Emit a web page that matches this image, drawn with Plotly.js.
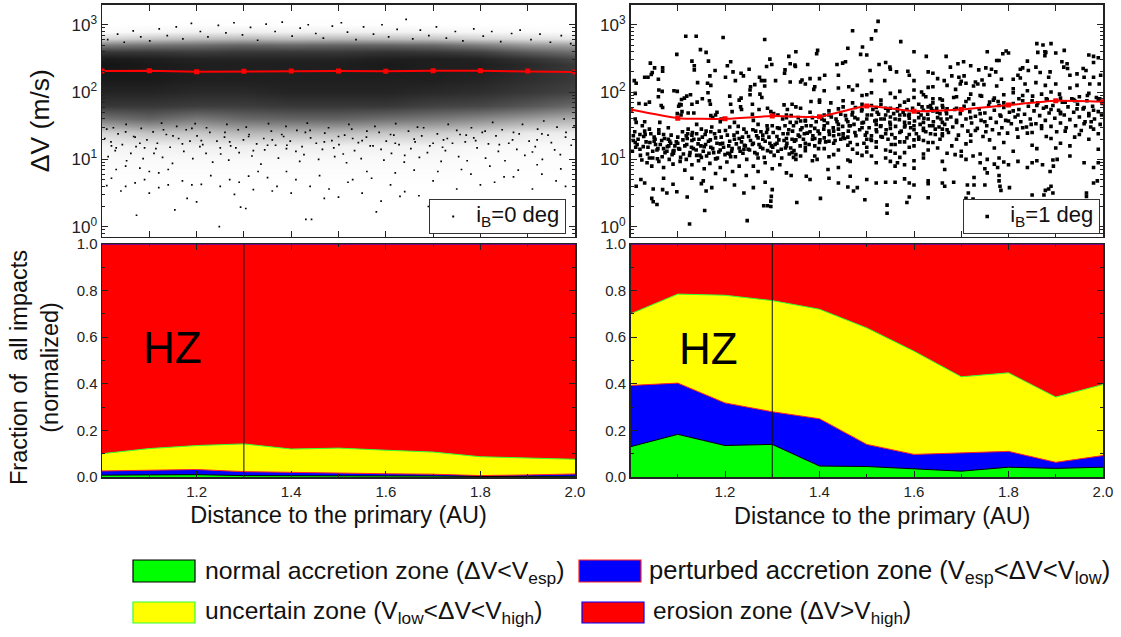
<!DOCTYPE html>
<html><head><meta charset="utf-8"><script src="https://cdn.plot.ly/plotly-3.0.1.min.js"></script>
<style>html,body{margin:0;padding:0;background:#fff}</style></head><body><div id="c" style="width:1121px;height:637px"></div>
<script>
// All values are estimates.
const distance=[1.0,1.1,1.2,1.3,1.4,1.5,1.6,1.7,1.8,1.9,2.0];
const medianLeft=[205,208,200,203,205,205,203,208,207,205,198];
const medianRight=[55,41,40,44,43,62,52,55,64,74,72];
// Zone upper boundaries (cumulative fraction of impacts)
const leftNormal=[.008,.008,.010,.006,.006,.005,.004,.004,.002,.003,.003];
const leftPerturbed=[.026,.028,.032,.023,.019,.017,.014,.012,.006,.009,.013];
const leftUncertain=[.100,.122,.135,.142,.120,.124,.115,.107,.087,.083,.076];
const rightNormal=[.130,.183,.135,.140,.047,.045,.035,.025,.042,.037,.042];
const rightPerturbed=[.393,.403,.318,.280,.250,.140,.097,.103,.110,.063,.092];
const rightUncertain=[.700,.785,.780,.757,.720,.640,.540,.430,.447,.343,.397];
const erosionTop=[1,1,1,1,1,1,1,1,1,1,1];
// Left top panel is too dense (tens of thousands of dots) to read dot by dot:
const cloudLog=[0,0.6,1.0,1.2,1.4,1.6,1.8,2.0,2.2,2.4,2.5,2.6,2.7,2.8,2.9,3.0,3.1];
const cloudDarkness=[
[0,0,0,0,0,0,0,0,0,0,0],
[0,0,0,0,0,0,0,0,0,0,0],
[.02,.02,.02,.02,.02,.02,.02,.02,.01,.01,.01],
[.04,.06,.06,.07,.07,.06,.05,.05,.03,.02,.02],
[.16,.24,.22,.28,.28,.26,.22,.20,.15,.08,.07],
[.54,.60,.52,.58,.60,.60,.56,.52,.46,.38,.30],
[.78,.78,.76,.76,.78,.78,.78,.74,.72,.66,.58],
[.86,.86,.84,.84,.86,.86,.86,.84,.82,.78,.74],
[.90,.90,.88,.88,.88,.88,.88,.88,.86,.82,.78],
[.92,.90,.88,.88,.88,.88,.90,.88,.88,.84,.78],
[.90,.88,.86,.86,.86,.86,.88,.88,.86,.80,.72],
[.78,.78,.76,.78,.78,.78,.80,.78,.74,.64,.56],
[.50,.54,.56,.60,.58,.60,.60,.58,.50,.40,.36],
[.16,.22,.26,.28,.26,.28,.26,.24,.18,.13,.10],
[.01,.03,.05,.06,.05,.06,.05,.04,.03,.02,.01],
[0,0,.005,.005,.005,.005,.005,0,0,0,0],
[0,0,0,0,0,0,0,0,0,0,0]];
// Individually visible dots, left top panel: x, log10(dV)
const leftDots=[1.073,.17,1.154,.25,1.248,0,1.293,.29,1.304,.27,1.431,.11,1.443,.11,1.63,.45,1.36,.53,1.35,.73,1.02,.72,1.01,.61,1.04,.53,1.05,.6,1.07,.65,1.09,.7,1.1,.5,1.12,.58,1.14,.62,1.03,.85,1.05,.9,1.08,.87,1.1,.82,1.12,.8,1.14,.85,1.17,.68,1.19,.62,1.21,.63,1.23,.76,1.25,.6,1.27,.7,1.29,.66,1.31,.75,1.33,.82,1.37,.6,1.39,.82,1.41,.7,1.44,.6,1.46,.76,1.48,.56,1.5,.44,1.52,.66,1.55,.5,1.57,.72,1.59,.38,1.61,.62,1.64,.52,1.67,.46,1.7,.68,1.73,.35,1.75,.56,1.78,.78,1.8,.62,1.83,.66,1.85,.74,1.88,.84,1.91,.56,1.93,.78,1.96,.68,1.98,.6,1.69,.3,1.58,.22,1.47,.42,1.18,.42,1.2,.37,1.28,.48,1.32,.55,1.4,.5,1.53,.7,1.56,.82,1.62,.8,1.66,.84,1.71,.82,1.76,.85,1.82,.9,1.87,.74,1.92,.92,1.97,.86,
1.013,1.04,1.028,1.13,1.052,.98,1.061,1.09,1.087,1.01,1.114,1.16,1.128,1.03,1.149,.94,1.173,1.12,1.192,1.01,1.207,1.19,1.234,.96,1.251,1.08,1.268,.99,1.283,1.17,1.317,1.05,1.336,.93,1.344,1.14,1.373,1.02,1.391,1.21,1.418,.97,1.427,1.07,1.458,1.0,1.466,1.15,1.492,1.04,1.517,.95,1.534,1.13,1.548,1.01,1.573,1.2,1.596,.99,1.612,1.09,1.639,.96,1.653,1.16,1.671,1.03,1.688,1.1,1.717,.97,1.726,1.13,1.754,1.04,1.772,.98,1.793,1.17,1.811,1.02,1.838,1.12,1.852,.98,1.877,1.15,1.894,1.06,1.916,1.19,1.931,1.0,1.957,1.14,1.969,1.07,1.992,1.21,
1.006,1.31,1.019,1.26,1.034,1.38,1.043,1.22,1.067,1.34,1.072,1.19,1.095,1.29,1.108,1.41,1.117,1.24,1.136,1.37,1.144,1.18,1.162,1.31,1.178,1.44,1.186,1.27,1.201,1.35,1.213,1.22,1.228,1.4,1.243,1.27,1.259,1.33,1.272,1.2,1.288,1.44,1.299,1.29,1.311,1.37,1.327,1.23,1.342,1.31,1.358,1.42,1.367,1.21,1.384,1.34,1.398,1.27,1.412,1.43,1.423,1.19,1.441,1.32,1.453,1.24,1.471,1.39,1.486,1.28,1.501,1.22,1.513,1.36,1.528,1.45,1.542,1.25,1.559,1.33,1.567,1.2,1.586,1.4,1.601,1.27,1.617,1.36,1.628,1.22,1.648,1.42,1.662,1.26,1.676,1.35,1.693,1.2,1.709,1.38,1.722,1.29,1.741,1.24,1.757,1.37,1.768,1.26,1.786,1.32,1.804,1.4,1.817,1.23,1.833,1.35,1.846,1.44,1.868,1.29,1.882,1.38,1.903,1.27,1.921,1.45,1.943,1.36,1.962,1.48,1.981,1.4,1.998,1.5,
1.024,1.47,1.051,1.52,1.083,1.46,1.126,1.54,1.158,1.49,1.197,1.53,1.221,1.47,1.264,1.52,1.305,1.48,1.352,1.53,1.389,1.49,1.434,1.54,1.479,1.47,1.522,1.52,1.577,1.49,1.621,1.53,1.667,1.48,1.732,1.52,1.781,1.47,1.826,1.55,1.889,1.52,1.934,1.57,1.977,1.6,
1.012,2.78,1.033,2.86,1.047,2.74,1.066,2.91,1.082,2.82,1.101,2.76,1.121,2.94,1.138,2.84,1.157,2.97,1.171,2.79,1.189,3.02,1.208,2.9,1.224,2.82,1.246,2.99,1.262,2.88,1.279,3.03,1.297,2.85,1.314,2.96,1.329,2.77,1.347,3.01,1.366,2.9,1.381,3.04,1.402,2.83,1.419,2.95,1.436,3.0,1.452,2.87,1.468,2.8,1.487,2.98,1.506,3.03,1.519,2.89,1.537,2.78,1.553,2.97,1.574,2.86,1.592,3.0,1.606,2.82,1.624,2.93,1.643,3.08,1.657,2.79,1.673,2.92,1.691,2.84,1.707,2.97,1.728,2.8,1.747,2.9,1.763,2.76,1.786,2.94,1.806,2.83,1.824,2.9,1.843,2.75,1.866,2.87,1.884,2.92,1.907,2.78,1.926,2.86,1.948,2.74,1.971,2.84,1.991,2.72,
1.41,1.12,1.08,1.24,1.73,1.31,1.22,1.09,1.56,1.42,1.03,1.17,1.92,1.29,1.35,1.21,1.64,1.06,1.15,1.35,1.49,1.17,1.81,1.42,1.27,1.26,1.98,1.33,1.11,1.09,1.68,1.47,1.38,1.37,1.05,1.41,1.84,1.22,1.53,1.31,1.19,1.46,1.72,1.18,1.32,1.13,1.95,1.25,1.44,1.43,1.62,1.24,1.09,1.17,1.77,1.36,1.26,1.4,1.51,1.08,1.87,1.4,1.17,1.23,1.36,1.29,1.66,1.3,1.02,1.2,1.47,1.26,1.91,1.11,1.59,1.15,1.25,1.17,1.79,1.28,1.13,1.44,1.43,1.4,1.7,1.24,1.31,1.34,1.01,1.45,1.55,1.28,1.86,1.24,1.21,1.28,1.61,1.37,1.39,1.16,1.75,1.43,1.07,1.33,1.93,1.38,1.29,1.1,1.5,1.34];
// Dots, right top panel: x, log10(dV)
const rightDotsA=[1.117,2.83,1.139,2.83,1.196,2.81,1.284,2.78,1.148,2.63,1.16,2.59,1.098,2.56,1.295,2.49,1.335,2.53,1.13,2.46,1.165,2.46,1.042,2.43,1.212,2.45,1.205,2.39,1.299,2.41,1.288,2.38,1.051,2.36,1.068,2.36,1.068,2.31,1.135,2.39,1.135,2.33,1.046,2.29,1.044,2.26,1.179,2.32,1.251,2.34,1.327,2.33,1.326,2.28,1.217,2.3,1.234,2.28,1.239,2.24,1.168,2.24,1.201,2.22,1.03,2.22,1.037,2.22,1.059,2.19,1.008,2.17,1.012,2.13,1.142,2.14,1.222,2.17,1.273,2.22,1.277,2.17,1.284,2.17,1.307,2.17,1.163,2.13,1.17,2.1,1.284,2.09,1.263,2.11,1.254,2.08,1.253,2.03,1.06,2.03,1.067,2.01,1.092,2.02,1.099,2.01,1.164,1.99,1.127,1.96,1.119,1.94,1.114,1.91,1.108,1.89,1.01,1.98,1.21,1.94,1.234,1.91,1.23,1.88,1.253,1.96,1.274,1.97,1.278,1.92,1.059,1.93,1.152,1.9,1.141,1.85,1.13,1.82,1.167,1.87,1.169,1.82,1.104,1.82,1.107,1.81,1.102,1.79,1.018,1.83,1.032,1.82,1.04,1.85,1.065,1.8,1.068,1.77,1.109,1.71,1.099,1.68,1.107,1.66,1.122,1.69,1.134,1.69,1.174,1.62,1.17,1.65,1.18,1.66,1.212,1.82,1.215,1.71,1.233,1.78,1.235,1.74,1.258,1.67,1.272,1.74,1.183,1.7,1.192,1.6,1.258,1.82,1.29,1.76,1.297,1.71,1.325,1.81,1.332,1.74,1.312,1.66,1.303,1.68,1.33,1.66,1.322,1.6,
1.01,1.6,1.03,1.56,1.012,1.55,1.025,1.5,1.04,1.45,1.043,1.38,1.05,1.33,1.06,1.44,1.07,1.37,1.062,1.55,1.066,1.28,1.08,1.3,1.085,1.24,1.094,1.2,1.1,1.33,1.11,1.41,1.118,1.35,1.13,1.28,1.122,1.45,1.14,1.38,1.145,1.3,1.15,1.45,1.158,1.37,1.165,1.27,1.172,1.48,1.18,1.32,1.188,1.42,1.195,1.24,1.205,1.36,1.21,1.48,1.22,1.3,1.226,1.4,1.235,1.26,1.24,1.45,1.25,1.34,1.258,1.22,1.265,1.42,1.27,1.52,1.28,1.3,1.288,1.4,1.295,1.24,1.3,1.5,1.31,1.34,1.315,1.46,1.325,1.28,1.333,1.38,1.338,1.55,
1.006,1.35,1.006,1.28,1.014,1.22,1.02,1.15,1.028,1.34,1.033,1.26,1.037,1.18,1.047,1.12,1.053,1.22,1.058,1.16,1.073,1.1,1.078,1.19,1.088,1.07,1.092,1.13,1.104,1.15,1.112,1.08,1.119,1.22,1.126,1.1,1.133,1.16,1.14,1.06,1.149,1.2,1.154,1.12,1.161,1.05,1.17,1.18,1.176,1.1,1.184,1.02,1.19,1.14,1.2,1.07,1.208,1.2,1.214,1.12,1.222,1.04,1.23,1.17,1.238,1.09,1.246,1.0,1.252,1.14,1.26,1.24,1.268,1.08,1.275,1.18,1.283,1.03,1.29,1.13,1.298,1.2,1.304,1.06,1.312,1.12,1.32,1.02,1.328,1.17,1.336,1.08,
1.035,.95,1.045,.9,1.06,.97,1.07,.88,1.082,1,1.09,.93,1.105,.97,1.115,.84,1.13,.92,1.144,.98,1.156,.86,1.168,.94,1.18,.79,1.19,.88,1.204,.96,1.216,.82,1.23,.9,1.245,.76,1.26,.9,1.27,.82,1.285,.95,1.3,.86,1.316,.92,1.33,.8,
1.012,.6,1.022,.7,1.03,.65,1.048,.56,1.07,.72,1.068,.55,1.077,.5,1.045,.42,1.048,.37,1.056,.33,1.09,.63,1.098,.52,1.12,.44,1.13,.72,1.15,.64,1.172,.58,1.16,.53,1.2,.7,1.22,.62,1.24,.5,1.26,.58,1.285,.66,1.3,.55,1.282,.31,1.29,.31,1.297,.3,1.297,.38,1.298,.45,1.157,.24,1.125,.04,1.247,.09,1.154,.68];
const rightDotsB=[1.524,3.05,1.47,2.91,1.519,2.91,1.51,2.79,1.396,2.62,1.46,2.65,1.491,2.67,1.572,2.75,1.6,2.6,1.394,2.57,1.35,2.6,1.5,2.55,1.487,2.56,1.668,2.53,1.626,2.53,1.455,2.45,1.449,2.43,1.437,2.41,1.375,2.41,1.338,2.42,1.348,2.4,1.349,2.38,1.526,2.41,1.54,2.44,1.549,2.37,1.55,2.34,1.563,2.3,1.507,2.32,1.587,2.31,1.59,2.25,1.63,2.3,1.64,2.28,1.44,2.25,1.411,2.25,1.4,2.2,1.38,2.2,1.363,2.18,1.36,2.15,1.338,2.15,1.388,2.04,1.44,2.06,1.462,2.08,1.48,2.1,1.51,2.17,1.538,2.17,1.6,2.17,1.64,2.08,1.6,2.03,1.63,2.07,1.664,2.17,1.65,2.2,1.67,2.1,1.37,2.12,1.39,2.08,1.41,2.02,1.47,2.03,1.49,1.95,1.5,1.96,1.51,1.99,1.55,1.98,1.57,2.01,1.6,1.92,1.616,2.0,1.625,1.93,1.588,1.88,1.64,1.9,1.655,1.9,
1.342,1.82,1.35,1.78,1.382,1.86,1.4,1.88,1.4,1.85,1.424,1.84,1.45,1.87,1.476,1.77,1.49,1.82,1.51,1.8,1.53,1.82,1.55,1.76,1.57,1.8,1.585,1.74,1.61,1.82,1.62,1.73,1.635,1.8,1.648,1.76,1.66,1.8,1.668,1.72,1.36,1.76,1.38,1.7,1.42,1.72,1.45,1.78,1.47,1.7,1.49,1.74,1.522,1.7,1.54,1.76,1.565,1.72,1.58,1.66,1.6,1.72,1.615,1.66,1.64,1.72,1.655,1.68,
1.34,1.65,1.355,1.62,1.37,1.57,1.385,1.62,1.41,1.58,1.42,1.66,1.435,1.6,1.44,1.52,1.455,1.65,1.46,1.56,1.475,1.62,1.49,1.54,1.5,1.6,1.51,1.66,1.52,1.52,1.53,1.6,1.54,1.66,1.55,1.52,1.56,1.6,1.57,1.66,1.58,1.55,1.59,1.61,1.6,1.5,1.61,1.62,1.62,1.55,1.63,1.6,1.64,1.5,1.65,1.62,1.66,1.55,1.67,1.6,
1.345,1.5,1.36,1.44,1.372,1.5,1.39,1.46,1.4,1.38,1.41,1.5,1.42,1.42,1.43,1.35,1.44,1.45,1.45,1.38,1.465,1.5,1.475,1.4,1.49,1.47,1.5,1.4,1.51,1.35,1.52,1.44,1.53,1.5,1.54,1.38,1.55,1.46,1.56,1.32,1.57,1.4,1.58,1.48,1.59,1.37,1.6,1.44,1.61,1.3,1.62,1.46,1.635,1.38,1.645,1.45,1.66,1.35,1.67,1.44,
1.342,1.3,1.358,1.34,1.37,1.24,1.385,1.3,1.4,1.25,1.41,1.32,1.43,1.24,1.445,1.3,1.46,1.33,1.48,1.22,1.5,1.3,1.52,1.26,1.545,1.3,1.5,1.18,1.56,1.22,1.58,1.26,1.6,1.2,1.62,1.28,1.64,1.25,1.655,1.3,
1.342,1.1,1.35,1.07,1.345,1.03,1.39,1.05,1.395,1.0,1.37,1.13,1.385,.98,1.42,1.04,1.44,.88,1.46,.99,1.465,.97,1.49,1.06,1.51,1.05,1.52,.95,1.54,1.02,1.55,.97,1.58,.92,1.57,1.03,1.6,.98,1.6,.87,1.62,1.02,1.66,.97,1.665,.85,1.565,.95,1.56,.9,
1.34,.76,1.372,.75,1.38,.7,1.418,.85,1.42,.72,1.44,.65,1.465,.75,1.46,.59,1.472,.53,1.48,.58,1.54,.66,1.5,.7,1.56,.66,1.59,.65,1.6,.62,1.63,.68,1.63,.64,1.66,.65,1.665,.6,1.58,.71,1.52,.65,1.63,.43,1.59,.44,1.585,.36,1.352,.36,1.402,.42,1.496,.4,1.543,.32,1.543,.2];
const rightDotsC=[1.86,2.72,1.873,2.7,1.89,2.72,1.918,2.62,1.9,2.58,1.877,2.6,1.879,2.59,1.862,2.59,1.795,2.61,1.8,2.58,1.788,2.57,1.755,2.6,1.775,2.47,1.78,2.47,1.877,2.54,1.913,2.45,1.924,2.42,1.917,2.37,1.925,2.35,1.84,2.46,1.825,2.34,1.97,2.55,1.98,2.53,1.98,2.44,1.99,2.51,1.705,2.45,1.72,2.39,1.693,2.42,1.677,2.37,1.68,2.24,1.695,2.22,1.706,2.24,1.737,2.33,1.752,2.36,1.764,2.34,1.773,2.3,1.83,2.36,1.842,2.32,1.858,2.37,1.867,2.29,1.888,2.3,1.885,2.22,1.82,2.25,1.825,2.21,1.81,2.19,1.785,2.19,1.76,2.25,1.744,2.18,1.73,2.15,1.726,2.09,1.735,2.12,1.71,2.13,1.7,2.16,1.958,2.35,1.964,2.32,1.945,2.27,1.93,2.25,1.96,2.22,1.98,2.22,1.995,2.25,1.992,2.12,1.972,2.12,1.945,2.1,1.93,2.06,1.9,2.12,1.878,2.1,1.858,2.14,1.835,2.12,1.81,2.05,1.775,2.09,1.748,2.11,1.698,2.12,1.688,2.04,
1.684,1.92,1.716,1.9,1.743,1.94,1.768,1.88,1.79,1.96,1.822,1.9,1.851,1.94,1.88,1.9,1.908,1.97,1.938,1.89,1.967,1.95,1.993,1.9,
1.687,1.07,1.7,1.05,1.71,1.0,1.725,1.05,1.74,.95,1.755,1.0,1.77,.93,1.79,.96,1.8,.92,1.78,1.02,1.82,.97,1.84,.88,1.86,.98,1.872,.92,1.894,.99,1.903,1.0,1.895,.9,1.888,.82,1.85,.95,1.93,1.05,1.96,.95,1.98,.88,1.99,.95,1.75,.86,1.755,.8,1.777,.88,1.78,.76,
1.684,.66,1.713,.62,1.727,.73,1.727,.62,1.75,.62,1.78,.68,1.782,.6,1.784,.54,1.802,.58,1.85,.47,1.875,.47,1.878,.54,1.885,.56,1.89,.6,1.894,.5,1.965,.5,1.965,.45,1.98,.65,1.988,.68,1.71,.42,1.715,.5,1.725,.41,1.722,.34];
// Dense core of the right cloud
const rightCore=[1.004,1.12,1.009,1.41,1.016,1.3,1.021,1.06,1.027,1.19,1.031,1.37,1.036,1.08,1.041,1.25,1.047,1.02,1.052,1.3,1.056,1.14,1.063,1.22,1.067,1.04,1.072,1.31,1.077,1.12,1.081,1.2,1.086,1.36,1.091,1.09,1.097,1.26,1.102,1.16,1.106,1.03,1.111,1.29,1.115,1.2,1.121,1.38,1.125,1.06,1.129,1.18,1.134,1.3,1.139,1.14,1.143,1.23,1.147,1.06,1.152,1.33,1.156,1.19,1.16,1.42,1.166,1.09,1.169,1.29,1.174,1.16,1.178,1.38,1.183,1.24,1.187,1.11,1.192,1.33,1.197,1.18,1.201,1.43,1.206,1.09,1.21,1.27,1.215,1.16,1.219,1.36,1.224,1.23,1.228,1.49,1.232,1.12,1.237,1.33,1.241,1.21,1.245,1.4,1.249,1.15,1.254,1.28,1.259,1.44,1.263,1.1,1.267,1.35,1.272,1.22,1.276,1.41,1.28,1.16,1.285,1.27,1.289,1.5,1.293,1.33,1.297,1.11,1.302,1.4,1.306,1.22,1.311,1.47,1.314,1.29,1.319,1.15,1.323,1.38,1.327,1.5,1.331,1.24,1.335,1.44,1.339,1.17,
1.343,1.42,1.347,1.27,1.351,1.55,1.355,1.36,1.359,1.2,1.363,1.47,1.366,1.3,1.37,1.58,1.374,1.39,1.378,1.22,1.382,1.5,1.386,1.35,1.39,1.2,1.393,1.56,1.397,1.42,1.401,1.29,1.405,1.6,1.409,1.45,1.413,1.26,1.417,1.54,1.421,1.37,1.425,1.63,1.429,1.47,1.433,1.28,1.437,1.56,1.441,1.37,1.445,1.67,1.449,1.49,1.453,1.31,1.457,1.59,1.461,1.42,1.465,1.25,1.469,1.66,1.473,1.52,1.477,1.35,1.481,1.6,1.485,1.44,1.489,1.72,1.493,1.55,1.497,1.36,1.501,1.66,1.505,1.47,1.509,1.3,1.513,1.74,1.517,1.57,1.521,1.41,1.525,1.67,1.529,1.49,1.533,1.33,1.537,1.6,1.541,1.44,1.545,1.72,1.549,1.55,1.553,1.37,1.557,1.68,1.561,1.49,1.565,1.75,1.569,1.59,1.573,1.42,1.577,1.7,1.581,1.5,1.585,1.32,1.589,1.65,1.593,1.47,1.597,1.76,1.601,1.57,1.605,1.38,1.609,1.7,1.613,1.52,1.617,1.78,1.621,1.61,1.625,1.41,1.629,1.67,1.633,1.5,1.637,1.75,1.641,1.56,1.645,1.37,1.649,1.7,1.653,1.48,1.657,1.6,1.661,1.77,1.665,1.52,1.669,1.68,1.673,1.4,
1.678,1.63,1.682,1.48,1.686,1.74,1.69,1.55,1.694,1.36,1.698,1.68,1.702,1.5,1.706,1.79,1.71,1.6,1.714,1.42,1.718,1.71,1.722,1.54,1.726,1.82,1.73,1.64,1.734,1.46,1.738,1.75,1.742,1.58,1.746,1.34,1.75,1.69,1.754,1.5,1.758,1.8,1.762,1.61,1.766,1.44,1.77,1.73,1.774,1.55,1.778,1.86,1.782,1.66,1.786,1.47,1.79,1.77,1.794,1.58,1.798,1.39,1.802,1.7,1.806,1.53,1.81,1.83,1.814,1.63,1.818,1.45,1.822,1.74,1.826,1.56,1.83,1.87,1.834,1.67,1.838,1.48,1.842,1.79,1.846,1.6,1.85,1.4,1.854,1.72,1.858,1.53,1.862,1.84,1.866,1.65,1.87,1.46,1.874,1.76,1.878,1.58,1.882,1.89,1.886,1.69,1.89,1.49,1.894,1.8,1.898,1.61,1.902,1.41,1.906,1.73,1.91,1.54,1.914,1.85,1.918,1.66,1.922,1.47,1.926,1.78,1.93,1.59,1.934,1.9,1.938,1.7,1.942,1.5,1.946,1.82,1.95,1.63,1.954,1.43,1.958,1.75,1.962,1.56,1.966,1.87,1.97,1.68,1.974,1.48,1.978,1.79,1.982,1.6,1.986,1.92,1.99,1.71,1.994,1.52,1.998,1.83,
1.011,1.18,1.024,.99,1.057,1.01,1.083,1.27,1.118,1.0,1.131,1.4,1.159,1.22,1.181,1.01,1.212,1.04,1.243,1.2,1.27,1.32,1.301,1.18,1.33,1.31,1.346,1.13,1.368,1.38,1.398,1.16,1.43,1.42,1.463,1.5,1.494,1.24,1.52,1.58,1.552,1.22,1.59,1.54,1.62,1.43,1.66,1.45,1.69,1.76,1.72,1.62,1.752,1.41,1.784,1.64,1.81,1.72,1.848,1.52,1.88,1.78,1.91,1.68,1.945,1.75,1.975,1.56,1.997,1.66];
// Further dots of the right cloud: the skirts above and below the core
const rightSkirts=[1.71,1.23,1.44,1.14,1.89,1.31,1.58,1.1,1.77,1.17,1.52,1.18,1.93,1.2,1.63,1.14,1.36,1.05,1.82,1.33,1.48,1.09,1.74,1.08,1.97,1.3,1.55,1.12,1.68,1.2,1.41,1.16,1.86,1.16,1.61,1.33,1.79,1.25,1.99,1.15,1.46,1.21,1.72,1.36,1.57,1.26,1.91,1.24,1.37,1.18,1.84,1.39,1.65,1.17,1.53,1.34,1.76,1.29,1.43,1.07,1.95,1.37,1.59,1.18,1.81,1.12,1.69,1.3,1.39,1.31,1.88,1.34,1.5,1.11,1.73,1.43,1.63,1.25,1.98,1.45,1.56,1.09,1.83,1.47,1.42,1.27,1.92,1.42,1.67,1.09,1.78,1.38,1.47,1.15,1.87,1.5,1.6,1.29,1.96,1.53,1.35,1.29,1.75,1.56,1.54,1.14,1.85,1.21,1.66,1.38,1.94,1.33,1.45,1.33,1.7,1.12,1.62,1.08,1.9,1.17,1.38,1.41,1.8,1.57,1.51,1.28,1.99,1.38,1.72,1.27,
1.74,1.95,1.92,1.85,1.81,1.99,1.66,1.88,1.97,1.98,1.85,1.87,1.58,1.85,1.71,1.86,1.89,2.0,1.77,1.91,1.64,1.84,1.95,1.93,1.83,1.95,1.53,1.88,1.69,1.93,1.91,1.91,1.76,1.85,1.99,1.88,1.62,1.96,1.87,1.97,1.79,1.84,1.47,1.84,1.94,1.87,1.72,1.97,1.56,1.92,1.84,2.02,1.67,1.75,1.96,1.77,1.89,1.74,1.44,1.75,1.78,1.8,1.52,1.77,1.63,1.78,1.86,1.8,1.41,1.66,1.74,1.68,1.98,1.73,1.59,1.67,1.91,1.7,1.36,1.57,1.82,1.66,1.69,1.58,1.97,1.65,1.55,1.63,
1.03,1.42,1.26,1.58,1.08,1.47,1.19,1.56,1.33,1.62,1.14,1.52,1.05,1.27,1.29,1.45,1.22,1.55,1.12,1.31,1.02,1.37,1.24,1.15,1.17,1.41,1.31,1.24,1.07,1.16,1.28,1.36,1.19,1.23,1.1,1.24,1.33,1.2,1.04,1.02,1.21,1.08,1.15,1.03,1.27,1.02,1.09,1.12,1.01,1.25,1.18,1.01,1.35,1.0,1.23,1.31,1.13,1.36,1.06,1.39];

const split=(a,i)=>a.filter((_,k)=>k%2===i);
const dv=a=>split(a,1).map(v=>Math.pow(10,v));
const rightDots=rightDotsA.concat(rightDotsB,rightDotsC,rightCore,rightSkirts);
const W=1121,H=637;
const dx1=[102/W,575/W],dx2=[630.5/W,1103/W],dyT=[1-236.7/H,1-4.5/H],dyB=[1-477/H,1-244/H];
const INK='#222';
const line=(c,w)=>({color:c,width:w});
const zoneTrace=(y,name,fc,lc,xa,ya)=>({x:distance,y,name,type:'scatter',mode:'lines',fill:'tozeroy',fillcolor:fc,line:line(lc,1),xaxis:xa,yaxis:ya,showlegend:false,hoverinfo:'skip'});
const hz=[1.3,1.3],hzY=[0,1];
const big=t=>'<span style="font-size:22px">'+t+'</span>';
const traces=[
 {type:'heatmap',x:distance,y:cloudLog.map(v=>Math.pow(10,v)),z:cloudDarkness,zmin:0,zmax:1,zsmooth:'best',colorscale:[[0,'#fff'],[1,'#000']],showscale:false,xaxis:'x',yaxis:'y',hoverinfo:'skip'},
 {type:'scatter',mode:'markers',x:split(leftDots,0),y:dv(leftDots),name:big('i<sub>B</sub>=0 deg'),marker:{symbol:'square',size:1.7,color:'#000'},xaxis:'x',yaxis:'y',legend:'legend',showlegend:true},
 {type:'scatter',mode:'lines+markers',x:distance,y:medianLeft,line:{color:'#f00',width:2},marker:{symbol:'square',size:5,color:'#f00'},xaxis:'x',yaxis:'y',showlegend:false},
 {type:'scatter',mode:'markers',x:split(rightDots,0),y:dv(rightDots),name:big('i<sub>B</sub>=1 deg'),marker:{symbol:'square',size:3.6,color:'#000'},xaxis:'x2',yaxis:'y2',legend:'legend2',showlegend:true},
 {type:'scatter',mode:'lines+markers',x:distance,y:medianRight,line:{color:'#f00',width:2,shape:'spline',smoothing:.5},marker:{symbol:'square',size:5,color:'#f00'},xaxis:'x2',yaxis:'y2',showlegend:false},
 zoneTrace(erosionTop,'erosion zone','#f00','#00f','x3','y3'),
 zoneTrace(leftUncertain,'uncertain zone','#ff0','#3f3','x3','y3'),
 zoneTrace(leftPerturbed,'perturbed accretion zone','#00f','#f22','x3','y3'),
 zoneTrace(leftNormal,'normal accretion zone','#0f0','#000','x3','y3'),
 {type:'scatter',mode:'lines',x:hz,y:hzY,line:line('#111',1),xaxis:'x3',yaxis:'y3',showlegend:false,hoverinfo:'skip'},
 zoneTrace(erosionTop,'erosion zone','#f00','#00f','x4','y4'),
 zoneTrace(rightUncertain,'uncertain zone','#ff0','#3f3','x4','y4'),
 zoneTrace(rightPerturbed,'perturbed accretion zone','#00f','#f22','x4','y4'),
 zoneTrace(rightNormal,'normal accretion zone','#0f0','#000','x4','y4'),
 {type:'scatter',mode:'lines',x:hz,y:hzY,line:line('#111',1),xaxis:'x4',yaxis:'y4',showlegend:false,hoverinfo:'skip'}
];
const logTicks=[1,10,100,1000], logTickText=['10<sup>0</sup>','10<sup>1</sup>','10<sup>2</sup>','10<sup>3</sup>'];
const logMinor=[.8,.9,2,3,4,5,6,7,8,9,20,30,40,50,60,70,80,90,200,300,400,500,600,700,800,900,2000];
const fracTicks=[0,.2,.4,.6,.8,1], fracText=['0.0','0.2','0.4','0.6','0.8','1.0'];
const xTicks=[1.2,1.4,1.6,1.8,2.0], xText=['1.2','1.4','1.6','1.8','2.0'];
const xMinor=[1.1,1.3,1.5,1.7,1.9];
const FONT='"Liberation Sans",Arial,sans-serif';
const axBase={showline:true,linecolor:INK,linewidth:1.5,mirror:'allticks',showgrid:false,zeroline:false,ticks:'inside',tickcolor:INK,ticklen:6,tickwidth:1,tickfont:{family:FONT,size:15,color:'#222'}};
const xTop=d=>Object.assign({},axBase,{domain:d,range:[1,2],tickmode:'array',tickvals:[1.1,1.2,1.3,1.4,1.5,1.6,1.7,1.8,1.9],ticktext:[],showticklabels:false});
const yTop=(d,xa,t)=>Object.assign({},axBase,{domain:d,anchor:xa,type:'log',range:[Math.log10(.71),Math.log10(2000)],tickmode:'array',tickvals:logTicks,ticktext:logTickText,tickfont:{family:FONT,size:17,color:'#222'},minor:{tickmode:'array',tickvals:logMinor,ticks:'inside',ticklen:3,tickcolor:INK},title:t?{text:t,font:{family:FONT,size:26.5,color:'#111'},standoff:14}:undefined});
const xBot=(d,ya,t)=>Object.assign({},axBase,{domain:d,anchor:ya,range:[1,2],tickmode:'array',tickvals:xTicks,ticktext:xText,minor:{tickmode:'array',tickvals:xMinor,ticks:'inside',ticklen:3,tickcolor:INK},title:t?{text:t,font:{family:FONT,size:23.5,color:'#111'},standoff:8}:undefined});
const yBot=(d,xa)=>Object.assign({},axBase,{domain:d,anchor:xa,range:[0,1],tickmode:'array',tickvals:fracTicks,ticktext:fracText,minor:{tickmode:'array',tickvals:[.1,.3,.5,.7,.9],ticks:'inside',ticklen:3,tickcolor:INK}});
const legendBox=(x)=>({x,y:1-234/H,xanchor:'right',yanchor:'bottom',xref:'paper',yref:'paper',bgcolor:'#fff',bordercolor:'#333',borderwidth:1.2,font:{family:FONT,size:15,color:'#111'},itemsizing:'trace',itemwidth:36,tracegroupgap:0});
const px=x=>x/W, py=y=>1-y/H;
const swatch=(x0,x1,y0,y1,f,l)=>({type:'rect',xref:'paper',yref:'paper',x0:px(x0),x1:px(x1),y0:py(y0),y1:py(y1),fillcolor:f,line:{color:l,width:1.2}});
const legendNote=(x,y,text,s)=>({xref:'paper',yref:'paper',x:px(x),y:py(y),xanchor:'left',yanchor:'middle',text,showarrow:false,font:{family:FONT,size:s,color:'#111'}});
const layout={width:W,height:H,margin:{l:0,r:0,t:0,b:0},paper_bgcolor:'#fff',plot_bgcolor:'#fff',showlegend:true,
 xaxis:xTop(dx1),yaxis:yTop(dyT,'x','ΔV (m/s)'),xaxis2:xTop(dx2),yaxis2:yTop(dyT,'x2'),
 xaxis3:xBot(dx1,'y3','Distance to the primary (AU)'),yaxis3:yBot(dyB,'x3'),xaxis4:xBot(dx2,'y4'),yaxis4:yBot(dyB,'x4'),
 legend:legendBox(566/W),legend2:legendBox(1100/W),
 shapes:[swatch(133,195,560,582,'#0f0','#000'),swatch(579,641,560,582,'#00f','#f22'),swatch(133,195,602,623,'#ff0','#3f3'),swatch(582,644,602,623,'#f00','#00f')],
 annotations:[
  {xref:'paper',yref:'paper',x:px(172),y:py(347),xanchor:'center',text:'HZ',showarrow:false,font:{family:FONT,size:44,color:'#000'}},
  {xref:'paper',yref:'paper',x:px(708),y:py(348),xanchor:'center',text:'HZ',showarrow:false,font:{family:FONT,size:44,color:'#000'}},
  {xref:'paper',yref:'paper',x:px(882),y:py(516),xanchor:'center',yanchor:'middle',text:'Distance to the primary (AU)',showarrow:false,font:{family:FONT,size:23.5,color:'#111'}},
  {xref:'paper',yref:'paper',x:px(34),y:py(368),xanchor:'center',yanchor:'middle',textangle:-90,text:'Fraction of  all impacts<br>(normalized)',showarrow:false,font:{family:FONT,size:23.5,color:'#111'}},
  legendNote(203,572,'normal accretion zone (ΔV<V<sub>esp</sub>)',24.8),
  legendNote(647,572,'perturbed accretion zone (V<sub>esp</sub><ΔV<V<sub>low</sub>)',25.6),
  legendNote(203,612,'uncertain zone (V<sub>low</sub><ΔV<V<sub>high</sub>)',24.6),
  legendNote(651,612,'erosion zone (ΔV>V<sub>high</sub>)',24.4)
 ]};
Plotly.newPlot('c',traces,layout,{displayModeBar:false,staticPlot:true});
</script></body></html>
